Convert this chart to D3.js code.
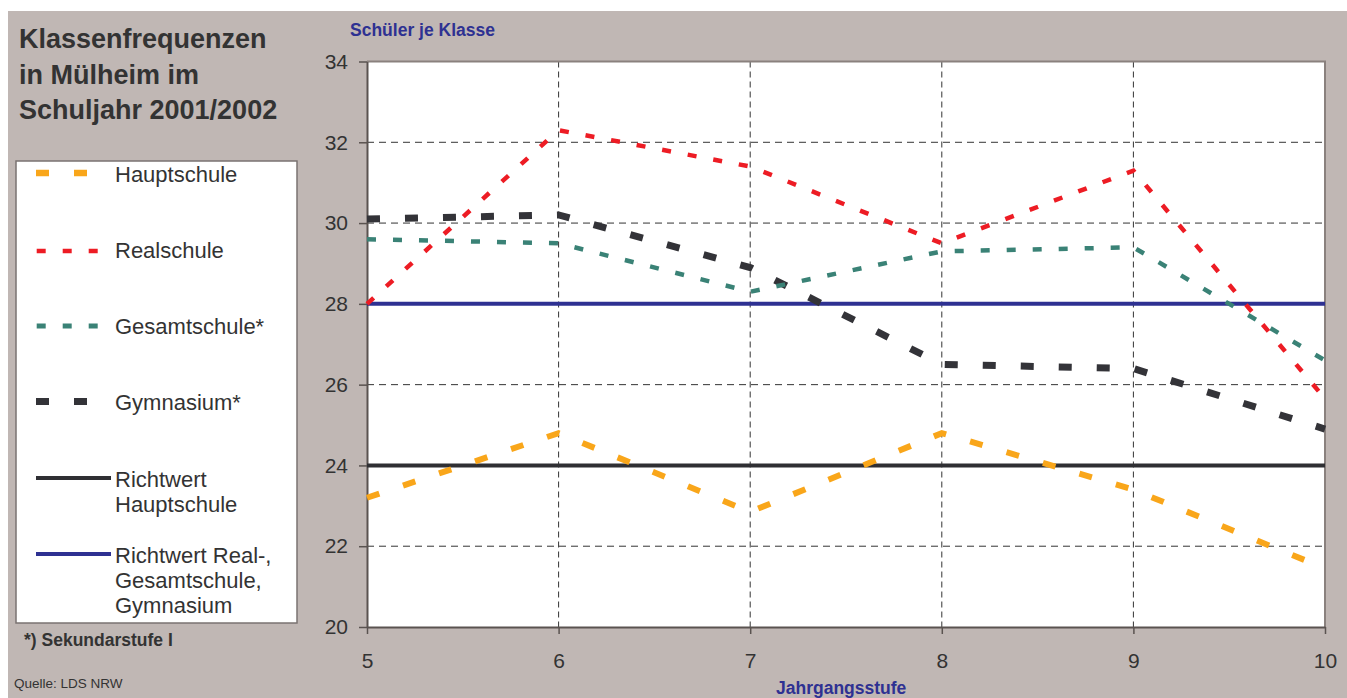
<!DOCTYPE html>
<html>
<head>
<meta charset="utf-8">
<script src="https://cdn.jsdelivr.net/npm/d3@7"></script>
<style>
  body { margin: 0; background: #fff; }
  text { font-family: "Liberation Sans", Arial, sans-serif; }
</style>
</head>
<body>
<div id="chart"></div>
<script>
// Klassenfrequenzen in Mülheim, Schuljahr 2001/2002
const grades = [5, 6, 7, 8, 9, 10];
const hauptschule = [23.2, 24.8, 22.85, 24.8, 23.4, 21.45];
const realschule = [28.0, 32.3, 31.4, 29.5, 31.3, 25.65];
const gesamtschule = [29.6, 29.5, 28.3, 29.3, 29.4, 26.6];
const gymnasium = [30.1, 30.2, 28.9, 26.5, 26.4, 24.9];
const richtwertHaupt = 24;
const richtwertReal = 28;
const yTicks = [20, 22, 24, 26, 28, 30, 32, 34];

const W = 1347, H = 698;
const bg = "#c0b7b4", txt = "#333333", blue = "#2e3192";

const svg = d3.select("#chart").append("svg")
    .attr("width", W)
    .attr("height", H);

svg.append("rect")
    .attr("x", 8).attr("y", 11)
    .attr("width", W - 8).attr("height", H - 11)
    .attr("fill", bg);

const x = d3.scaleLinear().domain([5, 10]).range([367, 1325]);
const y = d3.scaleLinear().domain([20, 34]).range([627, 61.5]);

// plot area
svg.append("rect")
    .attr("x", x(5)).attr("y", y(34))
    .attr("width", x(10) - x(5)).attr("height", y(20) - y(34))
    .attr("fill", "#fff");

// grid
svg.append("g").selectAll("line")
    .data([6, 7, 8, 9])
    .join("line")
    .attr("x1", d => x(d)).attr("x2", d => x(d))
    .attr("y1", y(34)).attr("y2", y(20))
    .attr("stroke", "#333").attr("stroke-width", 1)
    .attr("stroke-dasharray", "6,4");

svg.append("g").selectAll("line")
    .data([22, 24, 26, 28, 30, 32])
    .join("line")
    .attr("x1", x(5)).attr("x2", x(10))
    .attr("y1", d => y(d)).attr("y2", d => y(d))
    .attr("stroke", "#333").attr("stroke-width", 1)
    .attr("stroke-dasharray", "7,5");

// top / right frame
svg.append("path")
    .attr("d", `M${x(5)},${y(34)}H${x(10)}V${y(20)}`)
    .attr("fill", "none")
    .attr("stroke", "#8a817e")
    .attr("stroke-width", 2);

// axes
const yAxis = svg.append("g")
    .attr("transform", `translate(${x(5)},0)`)
    .call(d3.axisLeft(y).tickValues(yTicks).tickSize(8).tickPadding(11).tickSizeOuter(0));

const xAxis = svg.append("g")
    .attr("transform", `translate(0,${y(20)})`)
    .call(d3.axisBottom(x).tickValues(grades).tickFormat(d3.format("d"))
        .tickSize(7).tickPadding(19).tickSizeOuter(0));

[yAxis, xAxis].forEach(g => {
    g.select(".domain").attr("stroke", "#5a5350").attr("stroke-width", 2);
    g.selectAll(".tick line").attr("stroke", "#5a5350").attr("stroke-width", 1.5);
    g.selectAll(".tick text")
        .attr("fill", txt)
        .style("font-size", "21px")
        .style("font-family", "'Liberation Sans', Arial, sans-serif");
});

// reference lines
svg.append("line")
    .attr("x1", x(5)).attr("x2", x(10))
    .attr("y1", y(richtwertHaupt)).attr("y2", y(richtwertHaupt))
    .attr("stroke", "#2f2f33").attr("stroke-width", 4);

svg.append("line")
    .attr("x1", x(5)).attr("x2", x(10))
    .attr("y1", y(richtwertReal)).attr("y2", y(richtwertReal))
    .attr("stroke", blue).attr("stroke-width", 4);

// series
const series = [
    {name: "Gymnasium*", values: gymnasium, color: "#333338", width: 7, dash: "13,25"},
    {name: "Gesamtschule*", values: gesamtschule, color: "#3a8276", width: 4.5, dash: "9,17"},
    {name: "Realschule", values: realschule, color: "#ed1c24", width: 4.5, dash: "9,17"},
    {name: "Hauptschule", values: hauptschule, color: "#f9a61a", width: 6, dash: "13,25"}
];

const line = d3.line()
    .x((d, i) => x(grades[i]))
    .y(d => y(d));

svg.append("g").selectAll("path")
    .data(series)
    .join("path")
    .attr("d", d => line(d.values))
    .attr("fill", "none")
    .attr("stroke", d => d.color)
    .attr("stroke-width", d => d.width)
    .attr("stroke-dasharray", d => d.dash)
    .attr("stroke-linejoin", "miter");

// axis titles
svg.append("text")
    .attr("x", 350).attr("y", 36)
    .attr("fill", blue)
    .style("font-size", "17.5px").style("font-weight", "bold")
    .text("Schüler je Klasse");

svg.append("text")
    .attr("x", 776).attr("y", 694)
    .attr("fill", blue)
    .style("font-size", "17.5px").style("font-weight", "bold")
    .text("Jahrgangsstufe");

// title
svg.append("text")
    .attr("x", 19).attr("y", 48)
    .attr("fill", txt)
    .style("font-size", "27px").style("font-weight", "bold")
    .selectAll("tspan")
    .data(["Klassenfrequenzen", "in Mülheim im", "Schuljahr 2001/2002"])
    .join("tspan")
    .attr("x", 19)
    .attr("dy", (d, i) => i ? 35.5 : 0)
    .text(d => d);

// legend
svg.append("rect")
    .attr("x", 16).attr("y", 161)
    .attr("width", 281).attr("height", 462)
    .attr("fill", "#fff")
    .attr("stroke", "#7a7371").attr("stroke-width", 1.5);

const legendItems = [
    {label: ["Hauptschule"], color: "#f9a61a", width: 6.5, dash: "13,25", y: 173, x1: 36, x2: 88, ty: 182},
    {label: ["Realschule"], color: "#ed1c24", width: 4.5, dash: "9,17", y: 251, x1: 36.7, x2: 98, ty: 258},
    {label: ["Gesamtschule*"], color: "#3a8276", width: 5, dash: "9,17", y: 326, x1: 36.7, x2: 98, ty: 334},
    {label: ["Gymnasium*"], color: "#333338", width: 7, dash: "13,25", y: 401.5, x1: 36, x2: 88, ty: 410},
    {label: ["Richtwert", "Hauptschule"], color: "#2f2f33", width: 4, dash: null, y: 478, x1: 36, x2: 111, ty: 487},
    {label: ["Richtwert Real-,", "Gesamtschule,", "Gymnasium"], color: blue, width: 4, dash: null, y: 554, x1: 36, x2: 111, ty: 563}
];

const lg = svg.append("g").selectAll("g")
    .data(legendItems)
    .join("g");

lg.append("line")
    .attr("x1", d => d.x1).attr("x2", d => d.x2)
    .attr("y1", d => d.y).attr("y2", d => d.y)
    .attr("stroke", d => d.color)
    .attr("stroke-width", d => d.width)
    .attr("stroke-dasharray", d => d.dash);

lg.append("text")
    .attr("y", d => d.ty)
    .attr("fill", txt)
    .style("font-size", "22px")
    .selectAll("tspan")
    .data(d => d.label)
    .join("tspan")
    .attr("x", 115)
    .attr("dy", (d, i) => i ? 25 : 0)
    .text(d => d);

svg.append("text")
    .attr("x", 24).attr("y", 646)
    .attr("fill", txt)
    .style("font-size", "17.5px").style("font-weight", "bold")
    .text("*) Sekundarstufe I");

svg.append("text")
    .attr("x", 14).attr("y", 688)
    .attr("fill", txt)
    .style("font-size", "13.5px")
    .text("Quelle: LDS NRW");
</script>
</body>
</html>
